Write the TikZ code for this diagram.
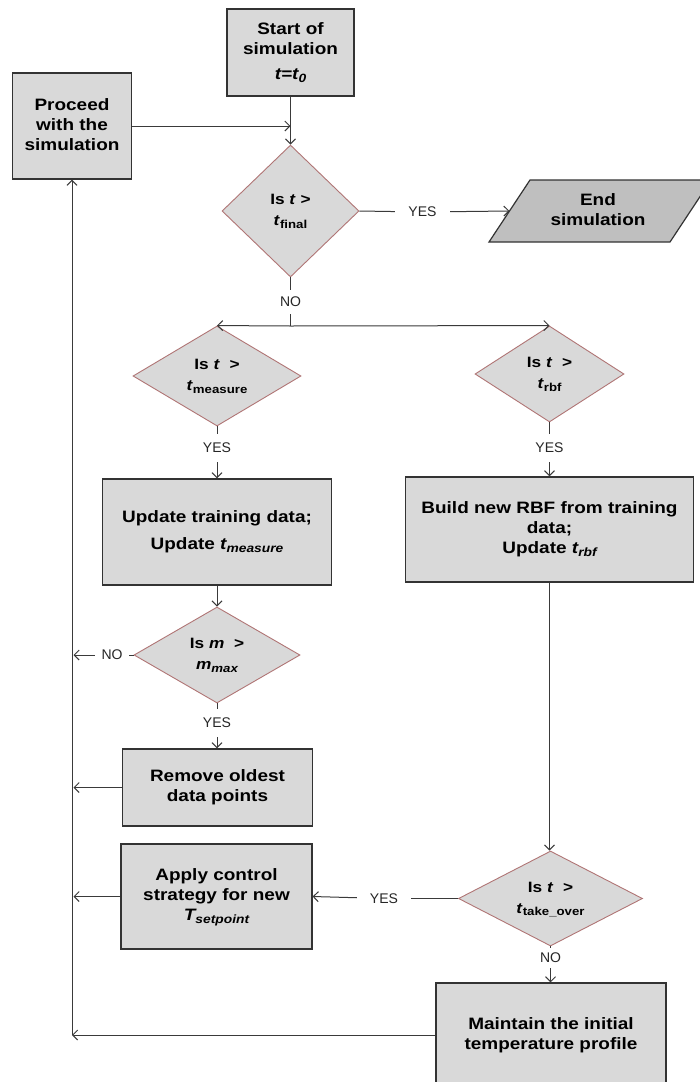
\documentclass[tikz,border=0pt]{standalone}
\usepackage{fontspec}
\usepackage{graphicx}
\setmainfont{Liberation Sans}
\newfontfamily\lblfont{Liberation Sans}
\usetikzlibrary{shapes.geometric,arrows.meta}
\definecolor{boxfill}{HTML}{D9D9D9}
\definecolor{endfill}{HTML}{BFBFBF}
\definecolor{boxborder}{HTML}{333333}
\definecolor{decborder}{HTML}{B07575}
\definecolor{linec}{HTML}{3A3A3A}
\newcommand\wt[1]{\scalebox{1.15}[1]{\begin{tabular}{@{}c@{}}#1\end{tabular}}}
\newcommand\sbs[1]{\raisebox{-0.35ex}{\fontsize{11.5}{12}\selectfont #1}}
\newcommand\sbb[1]{\raisebox{-0.35ex}{\fontsize{12}{12}\selectfont #1}}
\begin{document}
\begin{tikzpicture}[x=1pt,y=-1pt,
  box/.style={rectangle, draw=boxborder, line width=1.2pt, fill=boxfill, align=center, inner sep=2pt, font=\bfseries\fontsize{16.5}{20}\selectfont},
  dec/.style={diamond, draw=decborder, line width=0.9pt, fill=boxfill, align=center, inner sep=0pt, font=\bfseries\fontsize{15}{21}\selectfont},
  lbl/.style={font=\lblfont\fontsize{14}{16}\selectfont, inner sep=0pt, text=black!85},
  conn/.style={draw=linec, line width=1pt},
  arr/.style={conn, -{Straight Barb[length=5pt,width=10pt]}}]
\useasboundingbox (0,0) rectangle (700,1082);
\clip (0,0) rectangle (700,1082);
\fill[white] (0,0) rectangle (700,1082);

% top
\node[box, minimum width=127, minimum height=87] (start) at (290.5,52.5) {\wt{Start of\\simulation\\[5pt]\textit{t=t\sbb{0}}}};
\node[box, minimum width=119, minimum height=106] (proceed) at (72,126) {\wt{Proceed\\with the\\simulation}};
\node[dec, shape aspect=1.04, minimum width=137, minimum height=132] (dfinal) at (290.5,211) {\wt{Is \textit{t} >\\\textit{t}\sbs{final}}};

% end simulation parallelogram
\path[draw=boxborder, line width=1.2pt, fill=endfill] (530,180) -- (711,180) -- (670,242) -- (489,242) -- cycle;
\node[font=\bfseries\fontsize{16.5}{20}\selectfont, align=center] (end) at (598,211) {\wt{End\\simulation}};
\coordinate (endw) at (509.5,211);

\node[lbl, minimum width=55, minimum height=14] (yesA) at (422.5,212) {YES};
\draw[conn] (dfinal.east) -- (yesA);
\draw[arr] (yesA) -- (endw);

\draw[arr] (start.south) -- (dfinal.north);
\draw[arr] (proceed.east) -- (proceed.east -| start.south);

% NO branch
\node[lbl, minimum height=24] (noA) at (290.5,302) {NO};
\coordinate (junc) at (290.5,326);
\draw[conn] (dfinal.south) -- (noA);
\draw[conn] (noA) -- (junc);

\node[dec, shape aspect=1.68, minimum width=168, minimum height=100] (dmeas) at (217,376) {\wt{Is \textit{t}\ \ >\\\textit{t}\sbs{measure}}};
\node[dec, shape aspect=1.55, minimum width=149, minimum height=96] (drbf) at (549.5,374) {\wt{Is \textit{t}\ \ >\\\textit{t}\sbs{rbf}}};
\draw[arr] (junc) -- (dmeas.north);
\draw[arr] (junc) -- (drbf.north);

\node[lbl, minimum height=28] (yesB) at (217,448) {YES};
\node[lbl, minimum height=28] (yesC) at (549.5,448) {YES};
\node[box, minimum width=229, minimum height=106] (upd) at (217,532) {\wt{Update training data;\\[7pt]Update \textit{t\sbb{measure}}}};
\node[box, minimum width=288, minimum height=105] (build) at (549.5,529.5) {\wt{Build new RBF from training\\data;\\Update \textit{t\sbb{rbf}}}};
\draw[conn] (dmeas.south) -- (yesB);
\draw[arr] (yesB) -- (upd.north);
\draw[conn] (drbf.south) -- (yesC);
\draw[arr] (yesC) -- (build.north);

% m check
\node[dec, shape aspect=1.73, minimum width=166, minimum height=96] (dm) at (217,655) {\wt{Is \textit{m}\ \ >\\\textit{m\sbs{max}}}};
\draw[arr] (upd.south) -- (dm.north);
\coordinate (loopR) at (73.5,0);
\node[lbl, minimum width=34, minimum height=14] (noB) at (112,655) {NO};
\draw[conn] (dm.west) -- (noB);
\draw[arr] (noB) -- (noB -| loopR);

\node[lbl, minimum height=28] (yesD) at (217,723) {YES};
\node[box, minimum width=190, minimum height=77] (remove) at (217.5,787.5) {\wt{Remove oldest\\data points}};
\draw[conn] (dm.south) -- (yesD);
\draw[arr] (yesD) -- (yesD |- remove.north);
\draw[arr] (remove.west) -- (remove.west -| loopR);

\node[box, minimum width=191, minimum height=105] (apply) at (216.5,896.5) {\wt{Apply control\\strategy for new\\\textit{T\sbb{setpoint}}}};
\draw[arr] (apply.west) -- (apply.west -| loopR);

% take over
\node[dec, shape aspect=1.94, minimum width=184, minimum height=95] (dto) at (550.5,898.5) {\wt{Is \textit{t}\ \ >\\\textit{t}\sbs{take\_over}}};
\draw[arr] (build.south) -- (build.south |- dto.north);
\node[lbl, minimum width=54, minimum height=14] (yesE) at (384,898.5) {YES};
\draw[conn] (dto.west) -- (yesE);
\draw[arr] (yesE) -- (apply.east);

\node[lbl, minimum height=20] (noC) at (550.5,958) {NO};
\node[box, minimum width=230, minimum height=104] (maint) at (551,1035) {\wt{Maintain the initial\\temperature profile}};
\draw[conn] (dto.south) -- (noC);
\draw[arr] (noC) -- (noC |- maint.north);

\coordinate (corner) at (72,1035);
\draw[arr] (maint.west) -- (corner);
\draw[arr] (corner) -- (proceed.south);
\end{tikzpicture}
\end{document}
